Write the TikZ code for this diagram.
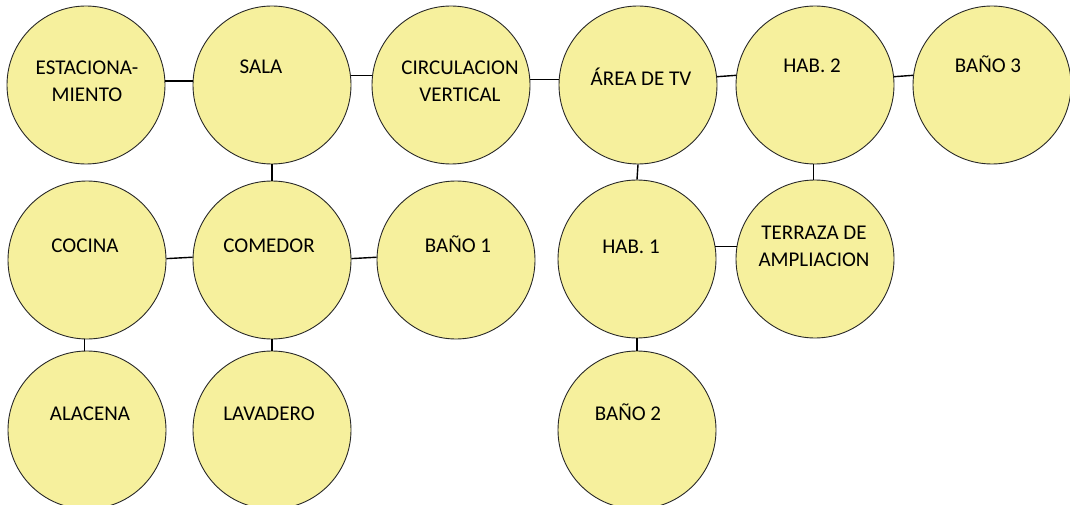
\documentclass[tikz,border=0pt]{standalone}
\usepackage{fontspec}
\setmainfont{Carlito}
\definecolor{roomfill}{RGB}{246,240,157}
\definecolor{roomline}{RGB}{40,40,40}
\begin{document}
\begin{tikzpicture}[x=1pt,y=-1pt,
  room/.style={circle,draw=roomline,fill=roomfill,line width=0.9pt,minimum size=158pt,inner sep=0pt},
  lbl/.style={font=\fontsize{21}{27}\selectfont,text=black,inner sep=0pt,align=center},
  lbl1/.style={lbl,text height=13.5pt,text depth=0pt},
  link/.style={draw=black,line width=1.4pt}]
\useasboundingbox (0,0) rectangle (1070,505);
% circles
\node[room] (est) at (86,85) {};
\node[room] (sala) at (272,85) {};
\node[room] (circ) at (451,85) {};
\node[room] (area) at (638,85) {};
\node[room] (hab2) at (815,85) {};
\node[room] (bano3) at (992,85) {};
\node[room] (cocina) at (87,260) {};
\node[room] (comedor) at (272,260) {};
\node[room] (bano1) at (456,260) {};
\node[room] (hab1) at (637,259) {};
\node[room] (terraza) at (815,259) {};
\node[room] (alacena) at (87,430) {};
\node[room] (lavadero) at (272,430) {};
\node[room] (bano2) at (637,430) {};
% labels
\node[lbl] (est-t) at (87,81) {ESTACIONA-\\MIENTO};
\node[lbl1] (sala-t) at (261,67) {SALA};
\node[lbl] (circ-t) at (460,81) {CIRCULACION\\VERTICAL};
\node[lbl1] (area-t) at (641,79) {ÁREA DE TV};
\node[lbl1] (hab2-t) at (812,66) {HAB. 2};
\node[lbl1] (bano3-t) at (988,66) {BAÑO 3};
\node[lbl1] (cocina-t) at (85,246) {COCINA};
\node[lbl1] (comedor-t) at (269,246) {COMEDOR};
\node[lbl1] (bano1-t) at (458,246) {BAÑO 1};
\node[lbl1] (hab1-t) at (631,247) {HAB. 1};
\node[lbl] (terraza-t) at (814,246) {TERRAZA DE\\AMPLIACION};
\node[lbl1] (alacena-t) at (90,414) {ALACENA};
\node[lbl1] (lavadero-t) at (269,414) {LAVADERO};
\node[lbl1] (bano2-t) at (628,414) {BAÑO 2};
% connectors
\draw[link] (est.3) -- (sala.177);
\draw[link] (sala.7) -- (circ.173);
\draw[link] (circ.4) -- (area.176);
\draw[link] (area.6.5) -- (hab2.173.5);
\draw[link] (hab2.6.5) -- (bano3.173.5);
\draw[link] (cocina.1.5) -- (comedor.178.5);
\draw[link] (comedor.1.5) -- (bano1.178.5);
\draw[link] (hab1.9) -- (terraza.171);
\draw[link] (sala.south) -- (comedor.north);
\draw[link] (area.south) -- (hab1.north);
\draw[link] (hab2.-91) -- (terraza.91);
\draw[link] (cocina.-92) -- (alacena.92);
\draw[link] (comedor.south) -- (lavadero.north);
\draw[link] (hab1.south) -- (bano2.north);
\end{tikzpicture}
\end{document}
